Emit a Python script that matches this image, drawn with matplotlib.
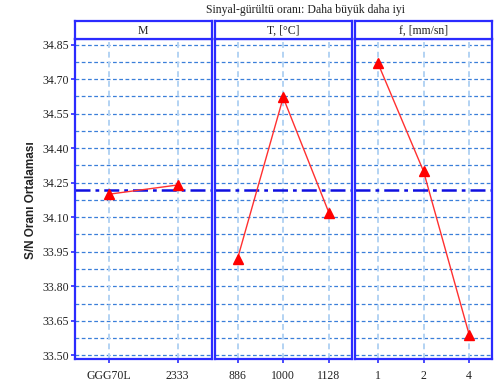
import numpy as np
import matplotlib
matplotlib.use("Agg")
import matplotlib.pyplot as plt

# factor levels and S/N means
factors = ["M", "T, [°C]", "f, [mm/sn]"]
levels_m = ["GGG70L", "2333"]
levels_t = ["886", "1000", "1128"]
levels_f = ["1", "2", "4"]
sn_m = [34.20, 34.24]
sn_t = [33.92, 34.62, 34.12]
sn_f = [34.77, 34.30, 33.59]
grand_mean = 34.22
yticks = [33.50, 33.65, 33.80, 33.95, 34.10, 34.25, 34.40, 34.55, 34.70, 34.85]

plt.rcParams['font.family'] = ['Liberation Serif', 'DejaVu Serif']

W, H = 494, 385
fig = plt.figure(figsize=(W / 100, H / 100), dpi=100)

BLUE = '#2b2bff'
panels = [(74.7, 212.0), (214.7, 351.7), (355.0, 492.0)]
top_px, bot_px, head_px = 39, 359.3, 21
ylo, yhi = 33.483, 34.874
minor = np.arange(33.50, 34.86, 0.075)

data = [(levels_m, sn_m), (levels_t, sn_t), (levels_f, sn_f)]

for i, ((x0, x1), name, (labs, vals)) in enumerate(zip(panels, factors, data)):
    ax = fig.add_axes([x0 / W, (H - bot_px) / H, (x1 - x0) / W, (bot_px - top_px) / H])
    n = len(labs)
    xs = np.arange(n)
    ax.set_xlim(-0.5, n - 0.5)
    ax.set_ylim(ylo, yhi)

    for yv in minor:
        ax.axhline(yv, color='#3a7fd9', lw=0.9, ls=(0, (3, 2)), zorder=1)
    for xv in xs:
        ax.axvline(xv, color='#b3d3f3', lw=1.4, ls=(0, (3, 2)), zorder=1)

    ax.axhline(grand_mean, color='#1010e0', lw=1.8, ls=(0, (6, 2, 1.5, 2)), zorder=2)
    ax.plot(xs, vals, color='#ff3030', lw=1.0, zorder=3)
    ax.plot(xs, vals, ls='none', marker='^', ms=7.5, color='#ff0000', zorder=4)

    ax.set_xticks(xs)
    ax.set_xticklabels(labs, fontsize=8.5, color='#222222')
    ax.tick_params(axis='x', colors=BLUE, labelcolor='#222222', length=3, width=1.2, pad=5)
    if i == 0:
        ax.set_yticks(yticks)
        ax.set_yticklabels([f"{v:.2f}" for v in yticks], fontsize=8.5, color='#222222')
        ax.tick_params(axis='y', colors=BLUE, labelcolor='#222222', length=3, width=1.2, pad=1)
    else:
        ax.set_yticks([])
    for s in ax.spines.values():
        s.set_color(BLUE)
        s.set_linewidth(1.6)

    hx = fig.add_axes([x0 / W, (H - top_px) / H, (x1 - x0) / W, (top_px - head_px) / H])
    hx.set_xticks([])
    hx.set_yticks([])
    for s in hx.spines.values():
        s.set_color(BLUE)
        s.set_linewidth(1.6)
    hx.text(0.5, 0.45, name, ha='center', va='center', fontsize=8.5, color='#222222',
            transform=hx.transAxes)

fig.text(305 / W, 1 - 10 / H, "Sinyal-gürültü oranı: Daha büyük daha iyi",
         ha='center', va='center', fontsize=8.5, color='#222222')
fig.text(31 / W, 1 - 200 / H, "S/N Oranı Ortalaması", rotation=90,
         ha='center', va='center', fontsize=8.5, fontweight='bold',
         family=['Liberation Sans', 'DejaVu Sans'], color='#222222')

fig.savefig("out.png", dpi=100)
